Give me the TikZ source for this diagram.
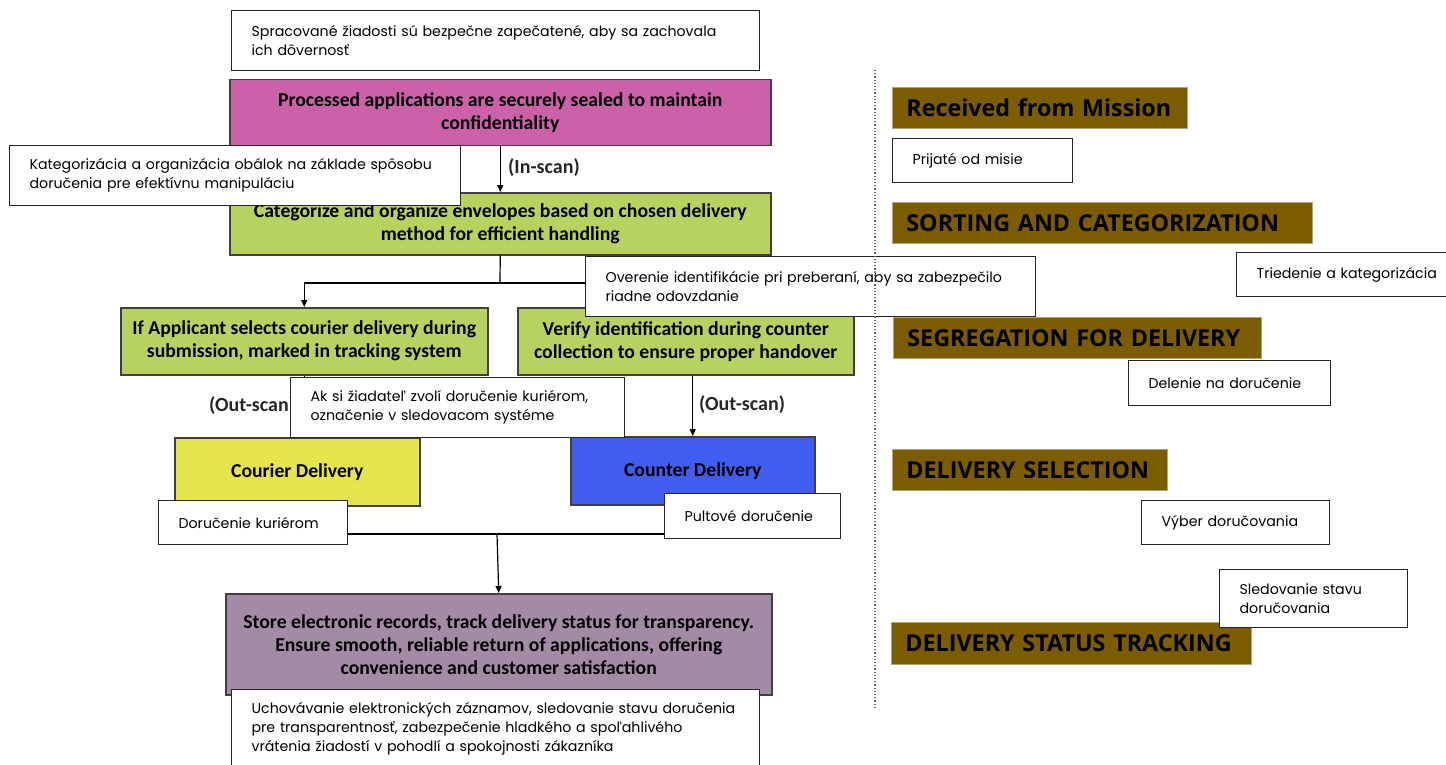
\documentclass[tikz,border=0pt]{standalone}
\usepackage{fontspec}
\usetikzlibrary{arrows.meta}

\newfontfamily\gothic{Poppins}
\newfontfamily\calib{Carlito}
\newfontfamily\heavy{Open Sans}

\definecolor{sealpink}{HTML}{CC61A9}
\definecolor{sortgreen}{HTML}{B8D25F}
\definecolor{courieryellow}{HTML}{E6E44B}
\definecolor{counterblue}{HTML}{405DF0}
\definecolor{storepurple}{HTML}{A38AA5}
\definecolor{bannerbrown}{HTML}{7B5C00}

\tikzset{
  note/.style={draw=black!85, line width=1.2pt, fill=white, anchor=north west,
    align=left, inner xsep=20pt, inner ysep=0pt,
    font=\gothic\fontsize{14.2}{19}\selectfont},
  stage/.style={draw=black!75, line width=1.5pt, anchor=north west,
    align=center, inner sep=0pt,
    font=\calib\bfseries\fontsize{19.7}{23}\selectfont},
  banner/.style={fill=bannerbrown, draw=bannerbrown!55!white, line width=0.8pt,
    anchor=north west, align=left, inner xsep=14pt, inner ysep=0pt,
    font=\heavy\bfseries\fontsize{23.3}{28}\selectfont},
  flow/.style={-{Triangle[length=7pt,width=6pt]}, line width=1.2pt},
  link/.style={line width=1.2pt},
  scanlabel/.style={anchor=west, inner sep=0pt,
    font=\calib\bfseries\fontsize{20}{22}\selectfont, text=black!85}
}

\begin{document}
\begin{tikzpicture}[x=1pt, y=-1pt]
  \useasboundingbox (0,0) rectangle (1446,765);

  % Process boxes
  \node[stage, fill=sealpink, minimum width=541pt, minimum height=66pt] (sealed) at (229,79)
    {Processed applications are securely sealed to maintain\\ confidentiality};
  \node[stage, fill=sortgreen, minimum width=541pt, minimum height=62pt] (sorted) at (229,192)
    {Categorize and organize envelopes based on chosen delivery\\ method for efficient handling};
  \node[stage, fill=sortgreen, minimum width=367pt, minimum height=67pt] (courierq) at (120,307)
    {If Applicant selects courier delivery during\\ submission, marked in tracking system};
  \node[stage, fill=sortgreen, minimum width=336pt, minimum height=67pt] (counterq) at (517,307)
    {Verify identification during counter\\ collection to ensure proper handover};
  \node[stage, fill=courieryellow, minimum width=245pt, minimum height=68pt] (courierd) at (174,437)
    {Courier Delivery};
  \node[stage, fill=counterblue, minimum width=244pt, minimum height=68pt] (counterd) at (570,436)
    {Counter Delivery};
  \node[stage, fill=storepurple, minimum width=546pt, minimum height=101pt] (store) at (225,593)
    {Store electronic records, track delivery status for transparency.\\
     Ensure smooth, reliable return of applications, offering\\
     convenience and customer satisfaction};

  % Connectors
  \coordinate (split) at (500,283);
  \coordinate (merge) at (497,534);
  \draw[flow] (sealed.south) -- (sorted.north);
  \draw[link] (sorted.south) -- (split);
  \draw[flow] (split) -| (courierq.north);
  \draw[flow] (split) -| (counterq.north);
  \draw[flow] (courierq.south) -- (courierq.south |- courierd.north);
  \draw[flow] (counterq.south -| counterd.north) -- (counterd.north);
  \draw[link] (courierd.south) |- (merge);
  \draw[link] (counterd.south) |- (merge);
  \draw[flow] (merge) -- (store.north);

  % Scan labels
  \node[scanlabel] (inscan) at (508,168) {(In-scan)};
  \node[scanlabel] (outscanl) at (209,406) {(Out-scan)};
  \node[scanlabel] (outscanr) at (699,405) {(Out-scan)};

  % Translations
  \node[note, text width=488pt, minimum height=60pt] (sealednote) at (231,10)
    {Spracované žiadosti sú bezpečne zapečatené, aby sa zachovala\\ ich dôvernosť};
  \node[note, text width=411pt, minimum height=60pt] (sortednote) at (9,145)
    {Kategorizácia a organizácia obálok na základe spôsobu\\ doručenia pre efektívnu manipuláciu};
  \node[note, text width=410pt, minimum height=60pt] (counterqnote) at (585,256)
    {Overenie identifikácie pri preberaní, aby sa zabezpečilo\\ riadne odovzdanie};
  \node[note, text width=294pt, minimum height=60pt] (courierqnote) at (290,377)
    {Ak si žiadateľ zvolí doručenie kuriérom,\\ označenie v sledovacom systéme};
  \node[note, text width=149pt, minimum height=44pt] (courierdnote) at (158,500)
    {Doručenie kuriérom};
  \node[note, text width=136pt, minimum height=45pt] (counterdnote) at (664,493)
    {Pultové doručenie};
  \node[note, text width=488pt, minimum height=78pt] (storenote) at (231,689)
    {Uchovávanie elektronických záznamov, sledovanie stavu doručenia\\
     pre transparentnosť, zabezpečenie hladkého a spoľahlivého\\
     vrátenia žiadostí v pohodlí a spokojnosti zákazníka};

  % Divider
  \coordinate (divtop) at (875,70);
  \coordinate (divbot) at (875,708);
  \draw[dotted, line width=1.2pt, black!60] (divtop) -- (divbot);

  % Phase banners
  \node[banner, text width=267pt, minimum height=41pt] (mission) at (892,87) {\mbox{Received from Mission}};
  \node[note, text width=140pt, minimum height=44pt] (missionnote) at (892,138) {Prijaté od misie};
  \node[banner, text width=392pt, minimum height=41pt] (sorting) at (892,202) {\mbox{SORTING AND CATEGORIZATION}};
  \node[note, text width=170pt, minimum height=44pt] (sortingnote) at (1236,252) {\mbox{Triedenie a kategorizácia}};
  \node[banner, text width=340pt, minimum height=41pt] (segregation) at (893,317) {\mbox{SEGREGATION FOR DELIVERY}};
  \node[note, text width=162pt, minimum height=45pt] (segregationnote) at (1128,360) {Delenie na doručenie};
  \node[banner, text width=247pt, minimum height=41pt] (selection) at (892,449) {\mbox{DELIVERY SELECTION}};
  \node[note, text width=148pt, minimum height=44pt] (selectionnote) at (1141,500) {Výber doručovania};
  \node[banner, text width=332pt, minimum height=42pt] (tracking) at (891,622) {\mbox{DELIVERY STATUS TRACKING}};
  \node[note, text width=148pt, minimum height=58pt] (trackingnote) at (1219,569) {Sledovanie stavu\\ doručovania};
\end{tikzpicture}
\end{document}
